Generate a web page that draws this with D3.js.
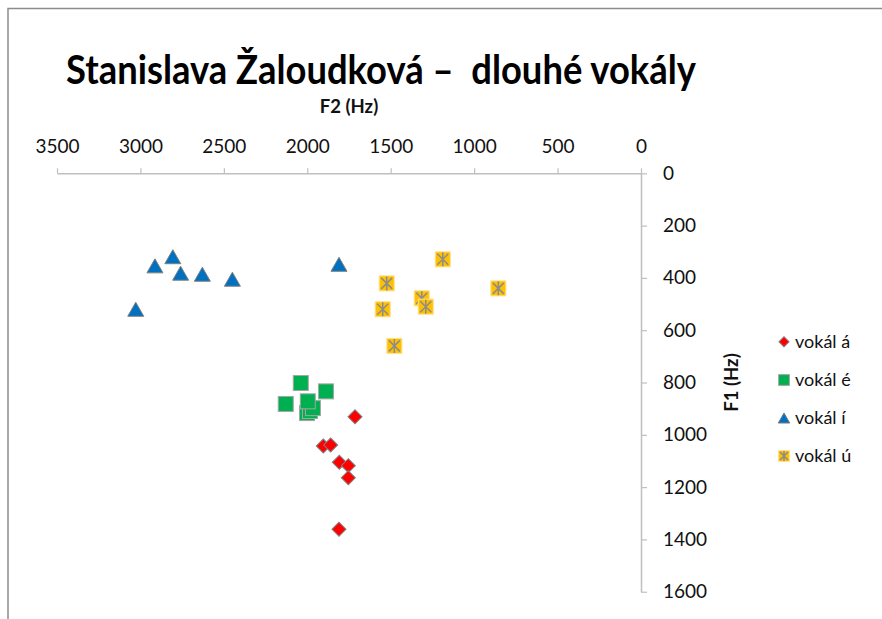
<!DOCTYPE html>
<html><head><meta charset="utf-8">
<script src="https://cdn.jsdelivr.net/npm/d3@7"></script>
<style>body{margin:0;background:#fff}svg{display:block}</style>
</head><body><svg id="c" width="882" height="619"></svg>
<script>
// ---- data ----
const titleText = "Stanislava Žaloudková –  dlouhé vokály";
const xTitle = "F2 (Hz)";
const yTitle = "F1 (Hz)";
const seriesNames = ["vokál á", "vokál é", "vokál í", "vokál ú"];
const seriesColors = ["#FF0000", "#00B050", "#0070C0", "#FFC000"];
// vokál á
const aF2 = [1714, 1904, 1860, 1808, 1754, 1754, 1810];
const aF1 = [931, 1043, 1039, 1105, 1118, 1164, 1361];
// vokál é
const eF2 = [2039, 1888, 2129, 2002, 1984, 1966, 1997];
const eF1 = [802, 834, 882, 917, 909, 898, 872];
// vokál í
const iF2 = [2806, 2913, 2759, 2629, 2449, 3028, 1810];
const iF1 = [319, 354, 382, 386, 405, 520, 348];
// vokál ú
const uF2 = [1188, 1524, 855, 1314, 1290, 1548, 1478];
const uF1 = [329, 421, 440, 478, 510, 520, 660];
const xTicks = [3500, 3000, 2500, 2000, 1500, 1000, 500, 0];
const yTicks = [0, 200, 400, 600, 800, 1000, 1200, 1400, 1600];

const series = [
  {name: seriesNames[0], color: seriesColors[0], f2: aF2, f1: aF1, shape: "diamond"},
  {name: seriesNames[1], color: seriesColors[1], f2: eF2, f1: eF1, shape: "square"},
  {name: seriesNames[2], color: seriesColors[2], f2: iF2, f1: iF1, shape: "triangle"},
  {name: seriesNames[3], color: seriesColors[3], f2: uF2, f1: uF1, shape: "star"}
];

// ---- layout ----
const FONT = "Lato, 'Open Sans', 'Liberation Sans', sans-serif";
const svg = d3.select("#c");
const x = d3.scaleLinear().domain([3500, 0]).range([57, 641]);
const y = d3.scaleLinear().domain([0, 1600]).range([173.3, 591.7]);
const fmt = d3.format("d");

// frame
svg.append("path").attr("d", "M8,619 L8,8.5 L882,8.5")
  .attr("fill", "none").attr("stroke", "#8c8c8c").attr("stroke-width", 1.5);

// title
svg.append("text").attr("x", 66).attr("y", 84)
  .attr("font-family", FONT).attr("font-weight", "bold").attr("font-size", 40)
  .attr("fill", "#000").attr("textLength", 630).attr("lengthAdjust", "spacingAndGlyphs")
  .style("white-space", "pre").text(titleText);

// top axis (F2)
const gx = svg.append("g").attr("transform", `translate(0,${y(0)})`)
  .call(d3.axisTop(x).tickValues(xTicks).tickFormat(fmt).tickSize(5).tickPadding(15).tickSizeOuter(0));
gx.select(".domain").attr("stroke", "#bfbfbf").attr("stroke-width", 1.5);
gx.selectAll(".tick line").attr("stroke", "#bfbfbf").attr("stroke-width", 1.2);
gx.selectAll(".tick text").attr("font-family", FONT).attr("font-size", 19).attr("fill", "#111");

// right axis (F1)
const gy = svg.append("g").attr("transform", `translate(${x(0)},0)`)
  .call(d3.axisRight(y).tickValues(yTicks).tickFormat(fmt).tickSize(6).tickPadding(16).tickSizeOuter(0));
gy.select(".domain").attr("stroke", "#bfbfbf").attr("stroke-width", 1.5);
gy.selectAll(".tick line").attr("stroke", "#bfbfbf").attr("stroke-width", 1.2);
gy.selectAll(".tick text").attr("font-family", FONT).attr("font-size", 19).attr("fill", "#111");

// axis titles
svg.append("text").attr("x", (x.range()[0] + x.range()[1]) / 2).attr("y", 113)
  .attr("text-anchor", "middle").attr("font-family", FONT).attr("font-weight", "bold")
  .attr("font-size", 18.5).attr("fill", "#111").text(xTitle);
const ymid = (y.range()[0] + y.range()[1]) / 2;
svg.append("text").attr("transform", `translate(738,${ymid}) rotate(-90)`)
  .attr("text-anchor", "middle").attr("font-family", FONT).attr("font-weight", "bold")
  .attr("font-size", 18.5).attr("fill", "#111").text(yTitle);

// marker drawing
function drawMarker(g, shape, color, k) {
  k = k || 1;
  if (shape === "diamond") {
    g.append("path").attr("d", d3.symbol(d3.symbolSquare, 98 * k * k)())
      .attr("transform", "rotate(45)")
      .attr("fill", color).attr("stroke", "#7f7f7f").attr("stroke-width", 1);
  } else if (shape === "square") {
    const s = 7.5 * k;
    g.append("rect").attr("x", -s).attr("y", -s).attr("width", 2 * s).attr("height", 2 * s)
      .attr("fill", color).attr("stroke", "#a6a6a6").attr("stroke-width", 1);
  } else if (shape === "triangle") {
    g.append("path").attr("d", `M0,${-7 * k} L${8 * k},${7 * k} L${-8 * k},${7 * k} Z`)
      .attr("fill", color).attr("stroke", "#7f7f7f").attr("stroke-width", 1);
  } else {
    const s = 7.5 * k;
    g.append("rect").attr("x", -s).attr("y", -s).attr("width", 2 * s).attr("height", 2 * s)
      .attr("fill", color).attr("stroke", "#ffe08a").attr("stroke-width", 1);
    const t = 5.5 * k;
    g.append("path").attr("d", `M${-t},${-t}L${t},${t}M${-t},${t}L${t},${-t}M0,${-s + 0.5}L0,${s - 0.5}`)
      .attr("stroke", "#8c8c8c").attr("stroke-width", 1.5).attr("fill", "none");
  }
}

// points
series.forEach(s => {
  const pts = s.f2.map((v, i) => ({f2: v, f1: s.f1[i]}));
  svg.append("g").selectAll("g").data(pts).enter().append("g")
    .attr("transform", d => `translate(${x(d.f2)},${y(d.f1)})`)
    .each(function () { drawMarker(d3.select(this), s.shape, s.color, 1); });
});

// legend
const legY = [341.7, 380, 418, 456];
series.forEach((s, i) => {
  const g = svg.append("g").attr("transform", `translate(784,${legY[i]})`);
  drawMarker(g, s.shape, s.color, 0.72);
  g.append("text").attr("x", 11).attr("dy", "0.35em")
    .attr("font-family", FONT).attr("font-size", 18).attr("fill", "#111").text(s.name);
});
</script>
</body></html>
